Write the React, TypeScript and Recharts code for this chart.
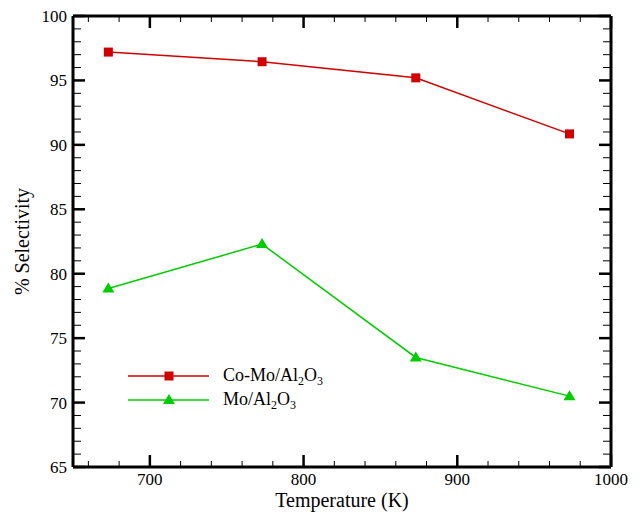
import { LineChart, Line, XAxis, YAxis, Legend } from 'recharts';

const temperatures = [673, 773, 873, 973];
const coMo = [97.2, 96.45, 95.2, 90.85];
const mo = [78.85, 82.3, 73.5, 70.5];

const xTicks = [660, 680, 700, 720, 740, 760, 780, 800, 820, 840, 860, 880, 900, 920, 940, 960, 980, 1000];
const yTicks = [65, 66, 67, 68, 69, 70, 71, 72, 73, 74, 75, 76, 77, 78, 79, 80, 81, 82, 83, 84, 85, 86, 87, 88, 89, 90, 91, 92, 93, 94, 95, 96, 97, 98, 99, 100];

const RED = '#d00000';
const GREEN = '#00cc00';
const FONT = 'Liberation Serif';

// chart frame: the plot box edges, used to mirror ticks on the top / right side
const W = 639;
const H = 513;
const MARGIN = { top: 16, right: 28, left: 13, bottom: 16 };
const PLOT_TOP = MARGIN.top;
const PLOT_RIGHT = W - MARGIN.right;

const data = temperatures.map((t, i) => ({ t, coMo: coMo[i], mo: mo[i] }));

const isMajorX = (v: number) => v % 100 === 0;
const isMajorY = (v: number) => v % 5 === 0;

function BottomTick(props: any) {
  const { x, y, payload } = props;
  const major = isMajorX(payload.value);
  const len = major ? 12 : 6;
  const sw = major ? 2.5 : 1;
  return (
    <g>
      <line x1={x} x2={x} y1={y} y2={y - len} stroke="#000" strokeWidth={sw} />
      <line x1={x} x2={x} y1={PLOT_TOP} y2={PLOT_TOP + len} stroke="#000" strokeWidth={sw} />
      {payload.value === 1000 && <line x1={x} x2={x} y1={y} y2={PLOT_TOP} stroke="#000" strokeWidth={3} />}
      {major && (
        <text x={x} y={y + 18} textAnchor="middle" fontFamily={FONT} style={{ fontFamily: FONT }} fontSize={17} fill="#000">
          {payload.value}
        </text>
      )}
    </g>
  );
}

function LeftTick(props: any) {
  const { x, y, payload } = props;
  const major = isMajorY(payload.value);
  const len = major ? 12 : 8;
  const sw = major ? 2.5 : 1;
  return (
    <g>
      <line x1={x} x2={x + len} y1={y} y2={y} stroke="#000" strokeWidth={sw} />
      <line x1={PLOT_RIGHT} x2={PLOT_RIGHT - len} y1={y} y2={y} stroke="#000" strokeWidth={sw} />
      {payload.value === 100 && <line x1={x} x2={PLOT_RIGHT} y1={y} y2={y} stroke="#000" strokeWidth={3} />}
      {major && (
        <text x={x - 6} y={y + 6} textAnchor="end" fontFamily={FONT} style={{ fontFamily: FONT }} fontSize={17} fill="#000">
          {payload.value}
        </text>
      )}
    </g>
  );
}

function SquareDot(props: any) {
  const { cx, cy } = props;
  return <rect x={cx - 4.5} y={cy - 4.5} width={9} height={9} fill={RED} />;
}

function TriangleDot(props: any) {
  const { cx, cy } = props;
  return <polygon points={`${cx},${cy - 6} ${cx - 6},${cy + 4} ${cx + 6},${cy + 4}`} fill={GREEN} />;
}

const sub = { fontSize: 12, verticalAlign: 'baseline', position: 'relative' as const, top: 4 };

function LegendRow({ color, square, prefix }: { color: string; square: boolean; prefix: string }) {
  return (
    <div style={{ display: 'flex', alignItems: 'center', height: 24 }}>
      <svg width={95} height={24} style={{ display: 'block', flex: 'none' }}>
        <line x1={8} x2={89} y1={12} y2={12} stroke={color} strokeWidth={1.5} />
        {square ? (
          <rect x={44.5} y={7.5} width={9} height={9} fill={color} />
        ) : (
          <polygon points="49,6 43,16 55,16" fill={color} />
        )}
      </svg>
      <span style={{ marginLeft: 8, whiteSpace: 'nowrap', lineHeight: '24px' }}>
        {prefix}Al<sub style={sub}>2</sub>O<sub style={sub}>3</sub>
      </span>
    </div>
  );
}

function LegendBox() {
  return (
    <div style={{ fontFamily: FONT, fontSize: 18, color: '#000' }}>
      <LegendRow color={RED} square prefix="Co-Mo/" />
      <LegendRow color={GREEN} square={false} prefix="Mo/" />
    </div>
  );
}

export default function App() {
  return (
    <div style={{ position: 'absolute', left: 0, top: 0, width: W, height: H, background: '#fff', fontFamily: FONT }}>
      <LineChart width={W} height={H} data={data} margin={MARGIN}>
        <XAxis
          dataKey="t"
          type="number"
          domain={[650, 1000]}
          ticks={xTicks}
          interval={0}
          allowDataOverflow
          height={30}
          tickLine={false}
          tickSize={0}
          tickMargin={0}
          tick={<BottomTick />}
          axisLine={{ stroke: '#000', strokeWidth: 3 }}
          label={({ viewBox }: any) => (
            <text x={viewBox.x + viewBox.width / 2} y={viewBox.y + 40} textAnchor="middle" fontFamily={FONT} style={{ fontFamily: FONT }} fontSize={20} fill="#000">
              Temperature (K)
            </text>
          )}
        />
        <YAxis
          type="number"
          domain={[65, 100]}
          ticks={yTicks}
          interval={0}
          allowDataOverflow
          width={60}
          tickLine={false}
          tickSize={0}
          tickMargin={0}
          tick={<LeftTick />}
          axisLine={{ stroke: '#000', strokeWidth: 3 }}
          label={({ viewBox }: any) => (
            <text
              x={viewBox.x + 9}
              y={viewBox.y + viewBox.height / 2}
              transform={`rotate(-90, ${viewBox.x + 9}, ${viewBox.y + viewBox.height / 2})`}
              textAnchor="middle"
              dominantBaseline="central"
              fontFamily={FONT}
              style={{ fontFamily: FONT }}
              fontSize={20}
              fill="#000"
            >
              % Selectivity
            </text>
          )}
        />
        <Legend
          layout="vertical"
          align="center"
          verticalAlign="middle"
          content={() => <LegendBox />}
          wrapperStyle={{ left: 120, top: 364, width: 260, height: 48 }}
        />
        <Line
          dataKey="coMo"
          name="Co-Mo/Al2O3"
          stroke={RED}
          strokeWidth={1.5}
          dot={<SquareDot />}
          activeDot={false}
          isAnimationActive={false}
        />
        <Line
          dataKey="mo"
          name="Mo/Al2O3"
          stroke={GREEN}
          strokeWidth={1.5}
          dot={<TriangleDot />}
          activeDot={false}
          isAnimationActive={false}
        />
      </LineChart>
    </div>
  );
}
